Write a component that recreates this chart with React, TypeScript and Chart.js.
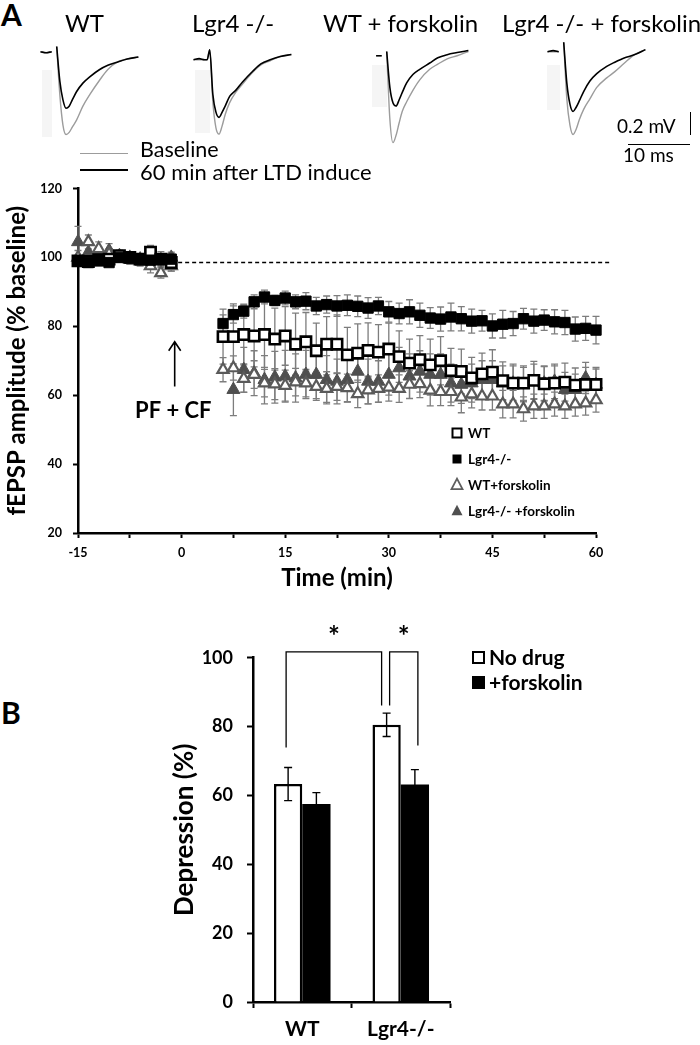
import React, { useEffect, useRef } from 'react';
import { Chart, registerables } from 'chart.js';

Chart.register(...registerables);

const FONT = 'Lato, "Open Sans", "DejaVu Sans", sans-serif';
Chart.defaults.font.family = FONT;

// ---------- Panel A traces (time in ms, amplitude in mV) ----------
const TRACE_T = [-2.6, -1.7, -0.8, -0.4, 0, 0.5, 1.0, 1.5, 2.0, 2.5, 3.2, 4.2, 5.3, 6.9, 8.2, 9.7, 11.3, 13.1];
const WT_BASE_TRACE = [0, -0.01, 0, null, 0.05, -0.41, -0.70, -0.79, -0.77, -0.72, -0.65, -0.52, -0.41, -0.27, -0.17, -0.10, -0.07, -0.05];
const WT_LTD_TRACE = [0, -0.01, 0, null, 0.05, -0.28, -0.46, -0.54, -0.52, -0.46, -0.38, -0.30, -0.24, -0.17, -0.13, -0.10, -0.07, -0.05];
const LGR4_BASE_TRACE = [0, 0, 0, 0, 0.095, -0.40, -0.65, -0.71, -0.63, -0.52, -0.41, -0.31, -0.23, -0.12, -0.05, -0.01, 0.03, 0.05];
const LGR4_LTD_TRACE = [0, 0.01, 0, 0, 0.095, -0.33, -0.50, -0.55, -0.50, -0.44, -0.35, -0.29, -0.21, -0.11, -0.04, 0.0, 0.03, 0.05];
const WTF_BASE_TRACE = [null, 0, 0, null, 0.04, -0.60, -0.83, -0.76, -0.64, -0.53, -0.44, -0.33, -0.23, -0.13, -0.08, -0.03, 0.0, 0.04];
const WTF_LTD_TRACE = [null, 0, 0, null, 0.04, -0.30, -0.45, -0.48, -0.42, -0.35, -0.26, -0.18, -0.13, -0.07, -0.02, 0.01, 0.03, 0.05];
const LGR4F_BASE_TRACE = [0, 0, 0, null, 0.09, -0.45, -0.70, -0.79, -0.74, -0.65, -0.55, -0.45, -0.34, -0.25, -0.19, -0.11, -0.03, 0.02];
const LGR4F_LTD_TRACE = [0, 0.01, 0, null, 0.09, -0.30, -0.50, -0.57, -0.53, -0.47, -0.38, -0.28, -0.21, -0.14, -0.10, -0.06, -0.03, 0.02];

// ---------- Panel A time course (min, % baseline) ----------
const TIMES = [-15, -13.5, -12, -10.5, -9, -7.5, -6, -4.5, -3, -1.5,
  6, 7.5, 9, 10.5, 12, 13.5, 15, 16.5, 18, 19.5, 21, 22.5, 24, 25.5, 27, 28.5, 30, 31.5, 33, 34.5,
  36, 37.5, 39, 40.5, 42, 43.5, 45, 46.5, 48, 49.5, 51, 52.5, 54, 55.5, 57, 58.5, 60];
const WT = [99, 98.8, 99.3, 99.5, 100.5, 100, 99.5, 101.5, 99.5, 98.5,
  77.0, 77.0, 77.6, 77.2, 77.6, 76.3, 77.2, 74.8, 75.5, 72.9, 74.8, 74.8, 71.7, 72.2, 73.0, 72.5, 73.4, 71.2, 69.3, 70.3,
  68.8, 70.0, 67.1, 66.9, 65.0, 66.2, 66.7, 64.2, 63.5, 63.5, 64.3, 63.3, 63.5, 63.8, 62.9, 63.1, 63.1];
const WT_ERR = [1.5, 1.2, 1.5, 1.8, 1.5, 1.2, 1.5, 2.0, 2.2, 2.5,
  8.0, 9.5, 8.5, 9.0, 9.5, 9.0, 8.5, 9.0, 8.5, 8.0, 8.0, 8.5, 8.0, 8.5, 8.0, 8.0, 7.5, 7.5, 7.0, 7.0,
  7.5, 7.0, 6.5, 6.5, 6.0, 6.0, 6.5, 5.5, 5.5, 5.0, 5.5, 5.0, 5.0, 5.5, 5.0, 5.0, 5.0];
const LGR4 = [99, 98.5, 99, 98.5, 100, 99.8, 99.3, 99.2, 99.5, 99.5,
  80.8, 83.4, 84.4, 87.1, 88.5, 87.5, 88.2, 87.1, 87.3, 85.9, 86.3, 85.9, 86.1, 85.8, 85.3, 85.9, 84.2, 83.7, 84.2, 83.2,
  82.4, 82.1, 82.7, 82.2, 81.5, 81.6, 80.1, 80.6, 80.8, 82.2, 81.5, 81.8, 81.3, 81.1, 79.2, 79.4, 78.9];
const LGR4_ERR = [1.2, 1.0, 1.2, 1.0, 1.2, 1.0, 1.0, 1.2, 1.0, 1.2,
  2.5, 2.5, 2.0, 2.0, 2.0, 1.5, 2.0, 2.0, 2.5, 2.5, 2.5, 3.0, 3.0, 3.0, 3.0, 2.5, 3.0, 3.0, 3.5, 3.5,
  3.0, 3.5, 4.0, 3.5, 3.5, 3.0, 3.5, 4.0, 3.5, 3.0, 3.5, 3.0, 3.5, 3.5, 3.5, 3.5, 4.0];
const WT_FSK = [100, 104.5, 102.5, 101, 100, 99.5, 99, 97.5, 95.5, 97.5,
  67.4, 67.9, 64.8, 66.0, 63.5, 63.2, 62.8, 63.8, 63.5, 62.5, 61.9, 62.5, 62.1, 60.4, 61.5, 61.9, 62.3, 61.9, 63.1, 63.3,
  61.4, 61.0, 61.0, 59.4, 60.3, 59.7, 59.7, 57.4, 57.4, 56.0, 56.8, 56.8, 57.4, 56.8, 57.4, 57.7, 58.6];
const WT_FSK_ERR = [2.0, 2.0, 2.0, 1.5, 1.5, 1.5, 1.5, 2.0, 1.5, 1.5,
  3.5, 3.5, 4.0, 4.0, 4.0, 4.5, 4.5, 4.0, 4.0, 4.0, 4.0, 4.0, 4.0, 4.0, 4.0, 4.0, 4.0, 4.0, 4.0, 4.0,
  4.5, 4.0, 4.0, 4.5, 4.0, 4.0, 4.0, 4.0, 4.0, 3.5, 3.5, 3.5, 3.5, 3.5, 3.5, 3.5, 3.5];
const LGR4_FSK = [104.5, 101.5, 101, 102, 100.5, 100, 99.5, 99.5, 99.2, 100,
  null, 61.6, 67.4, 66.4, 64.5, 65.2, 65.5, 65.0, 66.0, 66.0, 64.5, 64.0, 64.5, 66.9, 64.0, 64.0, 66.0, 67.9, 65.5, 66.9,
  66.0, 66.0, 63.5, 63.1, 63.5, 64.5, 64.5, 63.5, 63.5, 63.1, 64.0, 63.5, 64.0, 61.6, 61.6, 65.0, 63.1];
const LGR4_FSK_ERR = [4.5, 2.5, 2.0, 2.0, 1.5, 1.5, 1.5, 1.5, 1.5, 1.5,
  0, 7.5, 6.5, 6.5, 7.0, 7.5, 7.5, 7.0, 7.0, 7.0, 7.0, 6.5, 6.5, 6.0, 6.5, 6.0, 6.0, 6.0, 6.5, 6.0,
  6.0, 6.0, 5.5, 5.5, 5.5, 5.5, 5.5, 5.0, 5.0, 5.0, 5.0, 5.0, 5.0, 5.0, 4.5, 4.5, 4.5];
const BASELINE_LEVEL = 98.5;
const BASELINE_SPAN = [-0.5, 62];
const X_TICKS = [-15, 0, 15, 30, 45, 60];
const Y_TICKS_A = [20, 40, 60, 80, 100, 120];
const LEGEND_A = ['WT', 'Lgr4-/-', 'WT+forskolin', 'Lgr4-/- +forskolin'];
const STIM_TIME = -1;
const STIM_ARROW = [62.5, 75.5];
const STIM_LABEL = 'PF + CF';

// ---------- Panel B ----------
const GROUPS = ['WT', 'Lgr4-/-'];
const NO_DRUG = [63.3, 80.5];
const NO_DRUG_ERR = [4.8, 3.4];
const FORSKOLIN = [57.5, 63.2];
const FORSKOLIN_ERR = [3.3, 4.3];
const Y_TICKS_B = [0, 20, 40, 60, 80, 100];
// significance brackets: [group, dataset] endpoints, top level, leg ends
const BRACKETS = [
  { a: [0, 0], b: [1, 0], top: 101.7, aEnd: 73.9, bEnd: 86.1, aOff: -2, bOff: -5 },
  { a: [1, 0], b: [1, 1], top: 101.7, aEnd: 86.1, bEnd: 74.5, aOff: 3, bOff: 3 },
];

function TracePanel({ left, top, base, ltd }: any) {
  const ref = useRef<HTMLCanvasElement>(null);
  useEffect(() => {
    const pts = (arr: any[]) => TRACE_T.map((t, i) => ({ x: t, y: arr[i] }));
    const chart = new Chart(ref.current as HTMLCanvasElement, {
      type: 'line',
      data: {
        datasets: [
          { data: pts(ltd), borderColor: '#000', borderWidth: 1.6, pointRadius: 0, cubicInterpolationMode: 'monotone', clip: false, spanGaps: false } as any,
          { data: pts(base), borderColor: '#9c9c9c', borderWidth: 1.4, pointRadius: 0, cubicInterpolationMode: 'monotone', clip: false, spanGaps: false } as any,
        ],
      },
      options: {
        animation: false, responsive: false, devicePixelRatio: 1, events: [],
        layout: { padding: 0 },
        plugins: { legend: { display: false }, tooltip: { enabled: false } },
        scales: {
          x: { type: 'linear', min: -3, max: 14, display: false },
          y: { type: 'linear', min: -0.9, max: 0.15, display: false },
        },
      },
    });
    return () => chart.destroy();
  }, []);
  return <canvas ref={ref} width={106} height={110} style={{ position: 'absolute', left, top, width: 106, height: 110 }} />;
}

function drawMarker(ctx: CanvasRenderingContext2D, kind: string, x: number, y: number, r: number, fill: string, stroke: string, lw: number) {
  ctx.save();
  ctx.beginPath();
  if (kind === 'rect') {
    ctx.rect(x - r, y - r, 2 * r, 2 * r);
  } else {
    ctx.moveTo(x, y - r * 1.15);
    ctx.lineTo(x + r, y + r * 0.75);
    ctx.lineTo(x - r, y + r * 0.75);
    ctx.closePath();
  }
  ctx.fillStyle = fill;
  ctx.fill();
  if (lw > 0) { ctx.strokeStyle = stroke; ctx.lineWidth = lw; ctx.stroke(); }
  ctx.restore();
}

function TimeCourse() {
  const ref = useRef<HTMLCanvasElement>(null);
  useEffect(() => {
    const mk = (arr: any[]) => TIMES.map((t, i) => ({ x: t, y: arr[i] }));
    const errPlugin = {
      id: 'errA',
      beforeDatasetsDraw(chart: any) {
        const { ctx } = chart;
        const xs = chart.scales.x, ys = chart.scales.y;
        ctx.save();
        ctx.strokeStyle = '#7d7d7d';
        ctx.lineWidth = 1.3;
        chart.data.datasets.forEach((ds: any) => {
          if (!ds.errorBars) return;
          ds.data.forEach((p: any, i: number) => {
            const e = ds.errorBars[i];
            if (p.y == null || !e) return;
            const px = xs.getPixelForValue(p.x);
            const y1 = ys.getPixelForValue(p.y + e);
            const y2 = ys.getPixelForValue(p.y - e);
            ctx.beginPath();
            ctx.moveTo(px, y1); ctx.lineTo(px, y2);
            ctx.moveTo(px - 3.5, y1); ctx.lineTo(px + 3.5, y1);
            ctx.moveTo(px - 3.5, y2); ctx.lineTo(px + 3.5, y2);
            ctx.stroke();
          });
        });
        ctx.restore();
      },
    };
    const annPlugin = {
      id: 'annA',
      afterDraw(chart: any) {
        const { ctx } = chart;
        const xs = chart.scales.x, ys = chart.scales.y;
        ctx.save();
        // stimulus arrow
        const ax = xs.getPixelForValue(STIM_TIME);
        const ay1 = ys.getPixelForValue(STIM_ARROW[0]);
        const ay2 = ys.getPixelForValue(STIM_ARROW[1]);
        ctx.strokeStyle = '#000';
        ctx.lineWidth = 1.6;
        ctx.beginPath();
        ctx.moveTo(ax, ay1); ctx.lineTo(ax, ay2);
        ctx.moveTo(ax - 6, ay2 + 9); ctx.lineTo(ax, ay2); ctx.lineTo(ax + 6, ay2 + 9);
        ctx.stroke();
        ctx.fillStyle = '#000';
        ctx.font = `bold 22px ${FONT}`;
        ctx.textAlign = 'center';
        ctx.textBaseline = 'middle';
        ctx.fillText(STIM_LABEL, xs.getPixelForValue(-1.2), ys.getPixelForValue(55.5));
        // legend
        const styles = [
          ['rect', '#fff', '#000', 2],
          ['rect', '#000', '#000', 0],
          ['tri', '#fff', '#5f5f5f', 1.8],
          ['tri', '#4f4f4f', '#4f4f4f', 0],
        ];
        ctx.font = `bold 13.5px ${FONT}`;
        ctx.textAlign = 'left';
        LEGEND_A.forEach((lab, i) => {
          const cy = 263 + i * 26;
          const s: any = styles[i];
          drawMarker(ctx, s[0], 457, cy, s[0] === 'rect' ? 4.5 : 5.5, s[1], s[2], s[3]);
          ctx.fillStyle = '#000';
          ctx.fillText(lab, 468, cy + 1);
        });
        ctx.restore();
      },
    };
    const chart = new Chart(ref.current as HTMLCanvasElement, {
      type: 'scatter',
      data: {
        datasets: [
          { label: 'Lgr4-/-', data: mk(LGR4), errorBars: LGR4_ERR, pointStyle: 'rect', pointRadius: 7.3, backgroundColor: '#000', borderColor: '#000', borderWidth: 1, order: 0, clip: false } as any,
          { label: 'WT', data: mk(WT), errorBars: WT_ERR, pointStyle: 'rect', pointRadius: 7.3, backgroundColor: '#fff', borderColor: '#000', borderWidth: 2.6, order: 1, clip: false } as any,
          { label: 'WT+forskolin', data: mk(WT_FSK), errorBars: WT_FSK_ERR, pointStyle: 'triangle', pointRadius: 6.5, backgroundColor: '#fff', borderColor: '#5a5a5a', borderWidth: 2.2, order: 2, clip: false } as any,
          { label: 'Lgr4-/- +forskolin', data: mk(LGR4_FSK), errorBars: LGR4_FSK_ERR, pointStyle: 'triangle', pointRadius: 7.5, backgroundColor: '#4f4f4f', borderColor: '#4f4f4f', borderWidth: 1, order: 3, clip: false } as any,
          { label: 'baseline', type: 'line', data: BASELINE_SPAN.map((t) => ({ x: t, y: BASELINE_LEVEL })), showLine: true, borderColor: '#000', borderDash: [4, 3], borderWidth: 1.5, pointRadius: 0, order: 5, clip: false } as any,
        ],
      },
      options: {
        animation: false, responsive: false, devicePixelRatio: 1, events: [],
        layout: { padding: { left: 0, top: 16, right: 24, bottom: 0 } },
        plugins: { legend: { display: false }, tooltip: { enabled: false } },
        scales: {
          x: {
            type: 'linear', min: -15, max: 60,
            afterFit: (s: any) => { s.height = 67; },
            border: { display: true, color: '#000', width: 2.5 },
            grid: { display: true, drawOnChartArea: false, drawTicks: true, tickLength: 5, tickColor: '#000', tickWidth: 2 },
            ticks: {
              stepSize: 7.5, autoSkip: false, maxRotation: 0, padding: 7, color: '#000',
              font: { size: 12.5, weight: 'bold' },
              callback: (v: any) => (X_TICKS.includes(Number(v)) ? String(v) : ''),
            },
            title: { display: true, text: 'Time (min)', color: '#000', font: { size: 24, weight: 'bold' }, padding: { top: 0, bottom: 7.6 } },
          },
          y: {
            type: 'linear', min: Y_TICKS_A[0], max: Y_TICKS_A[Y_TICKS_A.length - 1],
            afterFit: (s: any) => { s.width = 78; },
            border: { display: true, color: '#000', width: 2.5 },
            grid: { display: true, drawOnChartArea: false, drawTicks: true, tickLength: 5, tickColor: '#000', tickWidth: 2 },
            ticks: { stepSize: 20, padding: 11, color: '#000', font: { size: 12.5, weight: 'bold' } },
            title: { display: true, text: 'fEPSP amplitude (% baseline)', color: '#000', font: { size: 24, weight: 'bold' }, padding: { top: 3, bottom: 0 } },
          },
        },
      } as any,
      plugins: [errPlugin, annPlugin],
    });
    return () => chart.destroy();
  }, []);
  return <canvas ref={ref} width={620} height={430} style={{ position: 'absolute', left: 0, top: 170, width: 620, height: 430 }} />;
}

function BarPanel() {
  const ref = useRef<HTMLCanvasElement>(null);
  useEffect(() => {
    const errs = [NO_DRUG_ERR, FORSKOLIN_ERR];
    const vals = [NO_DRUG, FORSKOLIN];
    const plugin = {
      id: 'annB',
      afterDatasetsDraw(chart: any) {
        const { ctx } = chart;
        const ys = chart.scales.y;
        ctx.save();
        ctx.strokeStyle = '#000';
        ctx.lineWidth = 1.4;
        [0, 1].forEach((d) => {
          const meta = chart.getDatasetMeta(d);
          meta.data.forEach((bar: any, i: number) => {
            const v = vals[d][i], e = errs[d][i];
            const x = bar.x;
            const y1 = ys.getPixelForValue(v + e), y2 = ys.getPixelForValue(v - e);
            ctx.beginPath();
            ctx.moveTo(x, y1); ctx.lineTo(x, y2);
            ctx.moveTo(x - 4, y1); ctx.lineTo(x + 4, y1);
            ctx.moveTo(x - 4, y2); ctx.lineTo(x + 4, y2);
            ctx.stroke();
          });
        });
        ctx.restore();
      },
      afterDraw(chart: any) {
        const { ctx } = chart;
        const ys = chart.scales.y;
        ctx.save();
        ctx.strokeStyle = '#000';
        ctx.lineWidth = 1.3;
        BRACKETS.forEach((b) => {
          const xa = chart.getDatasetMeta(b.a[1]).data[b.a[0]].x + b.aOff;
          const xb = chart.getDatasetMeta(b.b[1]).data[b.b[0]].x + b.bOff;
          const yt = ys.getPixelForValue(b.top);
          ctx.beginPath();
          ctx.moveTo(xa, ys.getPixelForValue(b.aEnd));
          ctx.lineTo(xa, yt);
          ctx.lineTo(xb, yt);
          ctx.lineTo(xb, ys.getPixelForValue(b.bEnd));
          ctx.stroke();
          ctx.fillStyle = '#000';
          ctx.font = `bold 28px ${FONT}`;
          ctx.textAlign = 'center';
          ctx.textBaseline = 'middle';
          ctx.fillText('*', (xa + xb) / 2, yt - 15);
        });
        // legend
        ctx.font = `bold 21px ${FONT}`;
        ctx.textAlign = 'left';
        ctx.textBaseline = 'middle';
        const items = [['No drug', '#fff'], ['+forskolin', '#000']];
        items.forEach((it, i) => {
          const y0 = 51 + i * 25;
          ctx.fillStyle = it[1];
          ctx.fillRect(372, y0, 13, 13);
          ctx.lineWidth = 2;
          ctx.strokeStyle = '#000';
          ctx.strokeRect(373, y0 + 1, 11, 11);
          ctx.fillStyle = '#000';
          ctx.fillText(it[0], 389, y0 + 7);
        });
        ctx.restore();
      },
    };
    const chart = new Chart(ref.current as HTMLCanvasElement, {
      type: 'bar',
      data: {
        labels: GROUPS,
        datasets: [
          { label: 'No drug', data: NO_DRUG, backgroundColor: '#fff', borderColor: '#000', borderWidth: 2.5, categoryPercentage: 0.574, barPercentage: 1 },
          { label: '+forskolin', data: FORSKOLIN, backgroundColor: '#000', borderColor: '#000', borderWidth: 0, categoryPercentage: 0.574, barPercentage: 1 },
        ],
      },
      options: {
        animation: false, responsive: false, devicePixelRatio: 1, events: [],
        layout: { padding: { left: 0, top: 57.7, right: 150, bottom: 0 } },
        plugins: { legend: { display: false }, tooltip: { enabled: false } },
        scales: {
          x: {
            afterFit: (s: any) => { s.height = 43; },
            border: { display: true, color: '#000', width: 2.5 },
            grid: { display: true, offset: true, drawOnChartArea: false, drawTicks: true, tickLength: 6, tickColor: '#000', tickWidth: 2 },
            ticks: { padding: 9, color: '#000', font: { size: 21, weight: 'bold' } },
          },
          y: {
            min: Y_TICKS_B[0], max: Y_TICKS_B[Y_TICKS_B.length - 1],
            afterFit: (s: any) => { s.width = 153; },
            border: { display: true, color: '#000', width: 2.5 },
            grid: { display: true, drawOnChartArea: false, drawTicks: true, tickLength: 6, tickColor: '#000', tickWidth: 2 },
            ticks: { stepSize: 20, padding: 14, color: '#000', font: { size: 18, weight: 'bold' } },
            title: { display: true, text: 'Depression (%)', color: '#000', font: { size: 26, weight: 'bold' }, padding: { top: 69, bottom: 0 } },
          },
        },
      } as any,
      plugins: [plugin],
    });
    return () => chart.destroy();
  }, []);
  return <canvas ref={ref} width={500} height={445} style={{ position: 'absolute', left: 100, top: 600, width: 500, height: 445 }} />;
}

function Txt({ left, top, size, bold, children }: any) {
  return (
    <div style={{ position: 'absolute', left, top, fontSize: size, lineHeight: 1, fontWeight: bold ? 'bold' : 'normal', whiteSpace: 'nowrap', color: '#000' }}>
      {children}
    </div>
  );
}

function Box({ left, top, width, height, bg }: any) {
  return <div style={{ position: 'absolute', left, top, width, height, background: bg }} />;
}

export default function App() {
  return (
    <div style={{ position: 'absolute', left: 0, top: 0, width: 700, height: 1045, background: '#fff', fontFamily: FONT, overflow: 'hidden' }}>
      {/* faint artefact boxes next to traces */}
      <Box left={42} top={70} width={10} height={67} bg="#f5f5f5" />
      <Box left={195} top={70} width={15} height={63} bg="#f5f5f5" />
      <Box left={372} top={65} width={15} height={42} bg="#f5f5f5" />
      <Box left={547} top={65} width={13} height={45} bg="#f5f5f5" />

      <TracePanel left={38.3} top={36.3} base={WT_BASE_TRACE} ltd={WT_LTD_TRACE} />
      <TracePanel left={191.3} top={44.3} base={LGR4_BASE_TRACE} ltd={LGR4_LTD_TRACE} />
      <TracePanel left={368} top={40.3} base={WTF_BASE_TRACE} ltd={WTF_LTD_TRACE} />
      <TracePanel left={544.6} top={36.3} base={LGR4F_BASE_TRACE} ltd={LGR4F_LTD_TRACE} />

      <TimeCourse />
      <BarPanel />

      <Txt left={1} top={-1} size={30} bold>A</Txt>
      <Txt left={1} top={697} size={30} bold>B</Txt>

      <Txt left={65} top={11} size={24}>WT</Txt>
      <Txt left={192} top={11} size={24}>Lgr4 -/-</Txt>
      <Txt left={323} top={11} size={24}>WT + forskolin</Txt>
      <Txt left={502} top={11} size={24}>Lgr4 -/- + forskolin</Txt>

      {/* trace legend */}
      <Box left={80} top={152.5} width={48} height={1.6} bg="#9c9c9c" />
      <Box left={80} top={169.3} width={48} height={1.8} bg="#000" />
      <Txt left={140} top={139.4} size={21.5}>Baseline</Txt>
      <Txt left={140} top={161.4} size={22}>60 min after LTD induce</Txt>

      {/* scale bar */}
      <Box left={689.5} top={112} width={1.6} height={23} bg="#000" />
      <Box left={628} top={143.5} width={62} height={1.6} bg="#000" />
      <Txt left={617} top={116} size={19}>0.2 mV</Txt>
      <Txt left={623} top={145} size={19}>10 ms</Txt>
    </div>
  );
}
